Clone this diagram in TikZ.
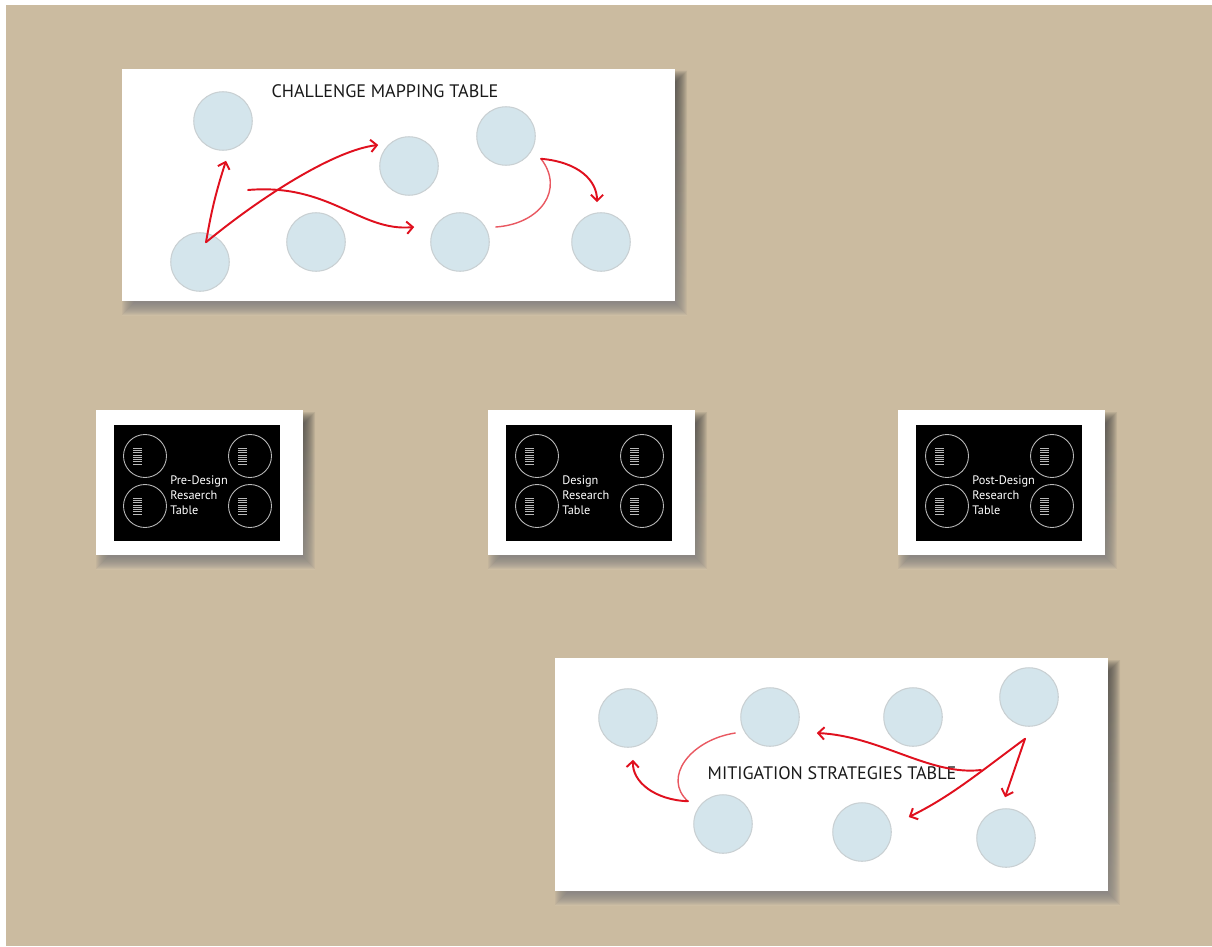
\documentclass[tikz,border=0pt]{standalone}
\usepackage{fontspec}
\setmainfont{PT Sans}
\usetikzlibrary{arrows.meta,positioning,calc}

\definecolor{wall}{HTML}{CBBBA0}
\definecolor{spotfill}{HTML}{D4E5EC}
\definecolor{spotedge}{HTML}{C9D0D3}
\definecolor{inkred}{HTML}{E0101E}
\definecolor{shade}{HTML}{5E5440}

\tikzset{
  spot/.style={circle,draw=spotedge,line width=0.6pt,fill=spotfill,
    minimum size=1.17cm,inner sep=0pt},
  seat/.style={circle,draw=white!72!black,line width=0.5pt,
    minimum size=0.86cm,inner sep=0pt},
  redink/.style={draw=inkred,line width=1.1pt,line cap=round},
  redarrow/.style={redink,-{Straight Barb[length=3.5pt,width=7pt]}},
  faint/.style={draw=inkred!70,line width=0.8pt,line cap=round},
  card/.style={fill=white},
  headline/.style={font=\fontsize{10.3}{12}\selectfont,text=black!90},
  tabletag/.style={font=\fontsize{7}{8.6}\selectfont,text=white,
    align=left,anchor=west,inner sep=0pt},
  notch/.style={draw=white!72!black,line width=0.35pt}
}

% soft shadow under a card, corners #1 and #2
\newcommand\cardshadow[2]{%
  \foreach \g in {-6,...,6}
    \fill[shade,opacity=0.05] ($(#1)+(6-\g,8-\g)$) rectangle ($(#2)+(6+\g,8+\g)$);
}

\begin{document}
\begin{tikzpicture}[x=0.02cm,y=-0.02cm]
  \useasboundingbox (0,0) rectangle (1212,946);
  \fill[white] (0,0) rectangle (1212,946);
  \fill[wall] (6,5) rectangle (1212,946);

  % challenge mapping table
  \coordinate (topA) at (122,69);
  \coordinate (topB) at (675,301);
  \cardshadow{topA}{topB}
  \fill[card] (topA) rectangle (topB);
  \node[headline] (maptitle) at (385,91) {CHALLENGE MAPPING TABLE};
  \node[spot] (cA) at (223,121) {};
  \node[spot] (cB) at (200,262) {};
  \node[spot] (cC) at (316,242) {};
  \node[spot] (cD) at (409,166) {};
  \node[spot] (cE) at (506,136) {};
  \node[spot] (cF) at (460,242) {};
  \node[spot] (cG) at (601,242) {};

  \coordinate (fork) at ($(cB.north)+(6,10)$);
  \coordinate (swoop) at (248,190);
  \coordinate (hook) at ($(cE.south)+(35,-7)$);
  \draw[redarrow] (fork) to[bend left=4] ($(cA.south)+(3,10)$);
  \draw[redarrow] (fork) .. controls (262,196) and (335,150) .. ($(cD.west)+(-1,-21)$);
  \draw[redarrow] (swoop) .. controls (330,183) and (360,232) .. ($(cF.west)+(-16,-15)$);
  \draw[faint] ($(cF.east)+(6,-15)$) .. controls (540,224) and (565,190) .. (hook);
  \draw[redarrow] (hook) .. controls (578,162) and (597,180) .. ($(cG.north)+(-4,-10)$);

  % research tables
  \foreach \px/\tag/\nm in {96/{Pre-Design\\Resaerch\\Table}/pre,
      488/{Design\\Research\\Table}/mid,
      898/{Post-Design\\Research\\Table}/post}{
    \coordinate (\nm-tl) at (\px,410);
    \coordinate (\nm-br) at (\px+207,555);
    \cardshadow{\nm-tl}{\nm-br}
    \fill[card] (\nm-tl) rectangle (\nm-br);
    \fill[black] (\px+18,425) rectangle (\px+184,541);
    \node[seat] (\nm-1) at (\px+49,456) {};
    \node[seat] (\nm-2) at (\px+154,456) {};
    \node[seat] (\nm-3) at (\px+49,506) {};
    \node[seat] (\nm-4) at (\px+154,506) {};
    \foreach \s in {1,...,4}
      \foreach \r in {-8,-5.7,-3.4,-1.1,1.1,3.4,5.7,8}
        \draw[notch] ($(\nm-\s)+(-12,\r)$) -- +(9,0);
    \node[tabletag] (\nm-tag) at (\px+74,495) {\tag};
  }

  % mitigation strategies table
  \coordinate (lowA) at (555,658);
  \coordinate (lowB) at (1108,891);
  \cardshadow{lowA}{lowB}
  \fill[card] (lowA) rectangle (lowB);
  \node[headline] (mittitle) at (832,773) {MITIGATION STRATEGIES TABLE};
  \node[spot] (cH) at (628,718) {};
  \node[spot] (cI) at (770,717) {};
  \node[spot] (cJ) at (913,717) {};
  \node[spot] (cK) at (1029,697) {};
  \node[spot] (cL) at (723,824) {};
  \node[spot] (cM) at (862,832) {};
  \node[spot] (cN) at (1006,838) {};

  \coordinate (loop) at ($(cL.north)+(-35,7)$);
  \coordinate (fan) at ($(cK.south)+(-4,12)$);
  \coordinate (cross) at (981,770);
  \draw[faint] ($(cI.west)+(-5,16)$) .. controls (690,740) and (662,778) .. (loop);
  \draw[redarrow] (loop) .. controls (655,800) and (632,782) .. ($(cH.south)+(5,12)$);
  \draw[redarrow] (fan) .. controls (1016,765) .. ($(cN.north)+(-1,-11)$);
  \draw[redarrow] (fan) .. controls (980,772) and (950,797) .. ($(cM.east)+(17,-15)$);
  \draw[redarrow] (cross) .. controls (930,776) and (880,736) .. ($(cI.east)+(17,16)$);
\end{tikzpicture}
\end{document}
